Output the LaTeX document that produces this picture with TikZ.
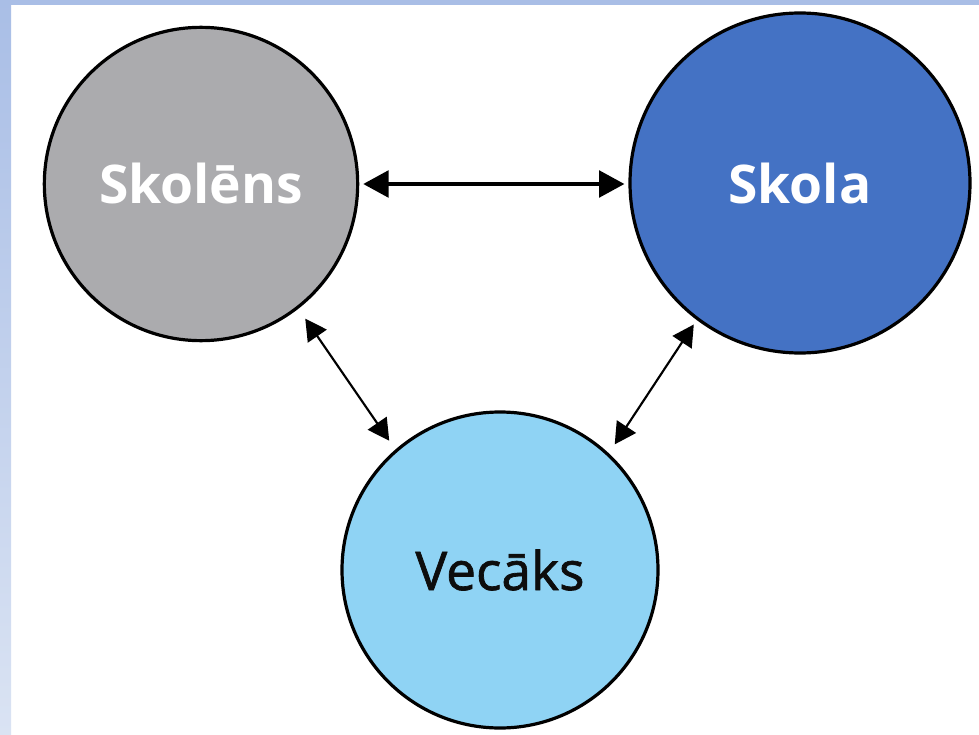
\documentclass[tikz,border=0pt]{standalone}
\usepackage{fontspec}
\setmainfont{Open Sans}
\newfontfamily\semifont[FakeBold=1.3]{Open Sans}
\usetikzlibrary{arrows.meta}
\definecolor{bandblue}{HTML}{A9BEE6}
\definecolor{bandpale}{HTML}{DAE3F3}
\definecolor{studentgray}{HTML}{ABABAE}
\definecolor{schoolblue}{HTML}{4472C4}
\definecolor{parentblue}{HTML}{8FD3F4}

\begin{document}
\begin{tikzpicture}[x=0.75pt,y=-0.75pt,
  actor/.style={circle,draw=black,line width=2.4pt,inner sep=0pt,font=\fontsize{40}{48}\selectfont},
  link/.style={{Triangle[length=16pt,width=17pt]}-{Triangle[length=16pt,width=17pt]},line width=1.6pt}]
\useasboundingbox (0,0) rectangle (979,735);
\fill[white] (0,0) rectangle (979,735);
\shade[top color=bandblue,bottom color=bandpale] (0,0) rectangle (11,735);
\fill[bandblue] (0,0) rectangle (979,5);

\node[actor,fill=studentgray,text=white,minimum size=235pt] (skolens) at (201,184) {\bfseries Skolēns};
\node[actor,fill=schoolblue,text=white,minimum size=255pt]  (skola)   at (800,183) {\bfseries Skola};
\node[actor,fill=parentblue,text=black!95,minimum size=237pt] (vecaks) at (500,570) {\semifont Vecāks};

\draw[link,line width=2.6pt,{Triangle[length=19pt,width=20pt]}-{Triangle[length=19pt,width=20pt]},shorten <=3pt,shorten >=3pt] (skolens.east) -- (skolens.east -| skola.west);
\draw[link,shorten <=9pt,shorten >=8pt] (skolens.-52) -- (vecaks.131);
\draw[link,shorten <=4pt,shorten >=8pt] (skola.233) -- (vecaks.47);
\end{tikzpicture}
\end{document}
